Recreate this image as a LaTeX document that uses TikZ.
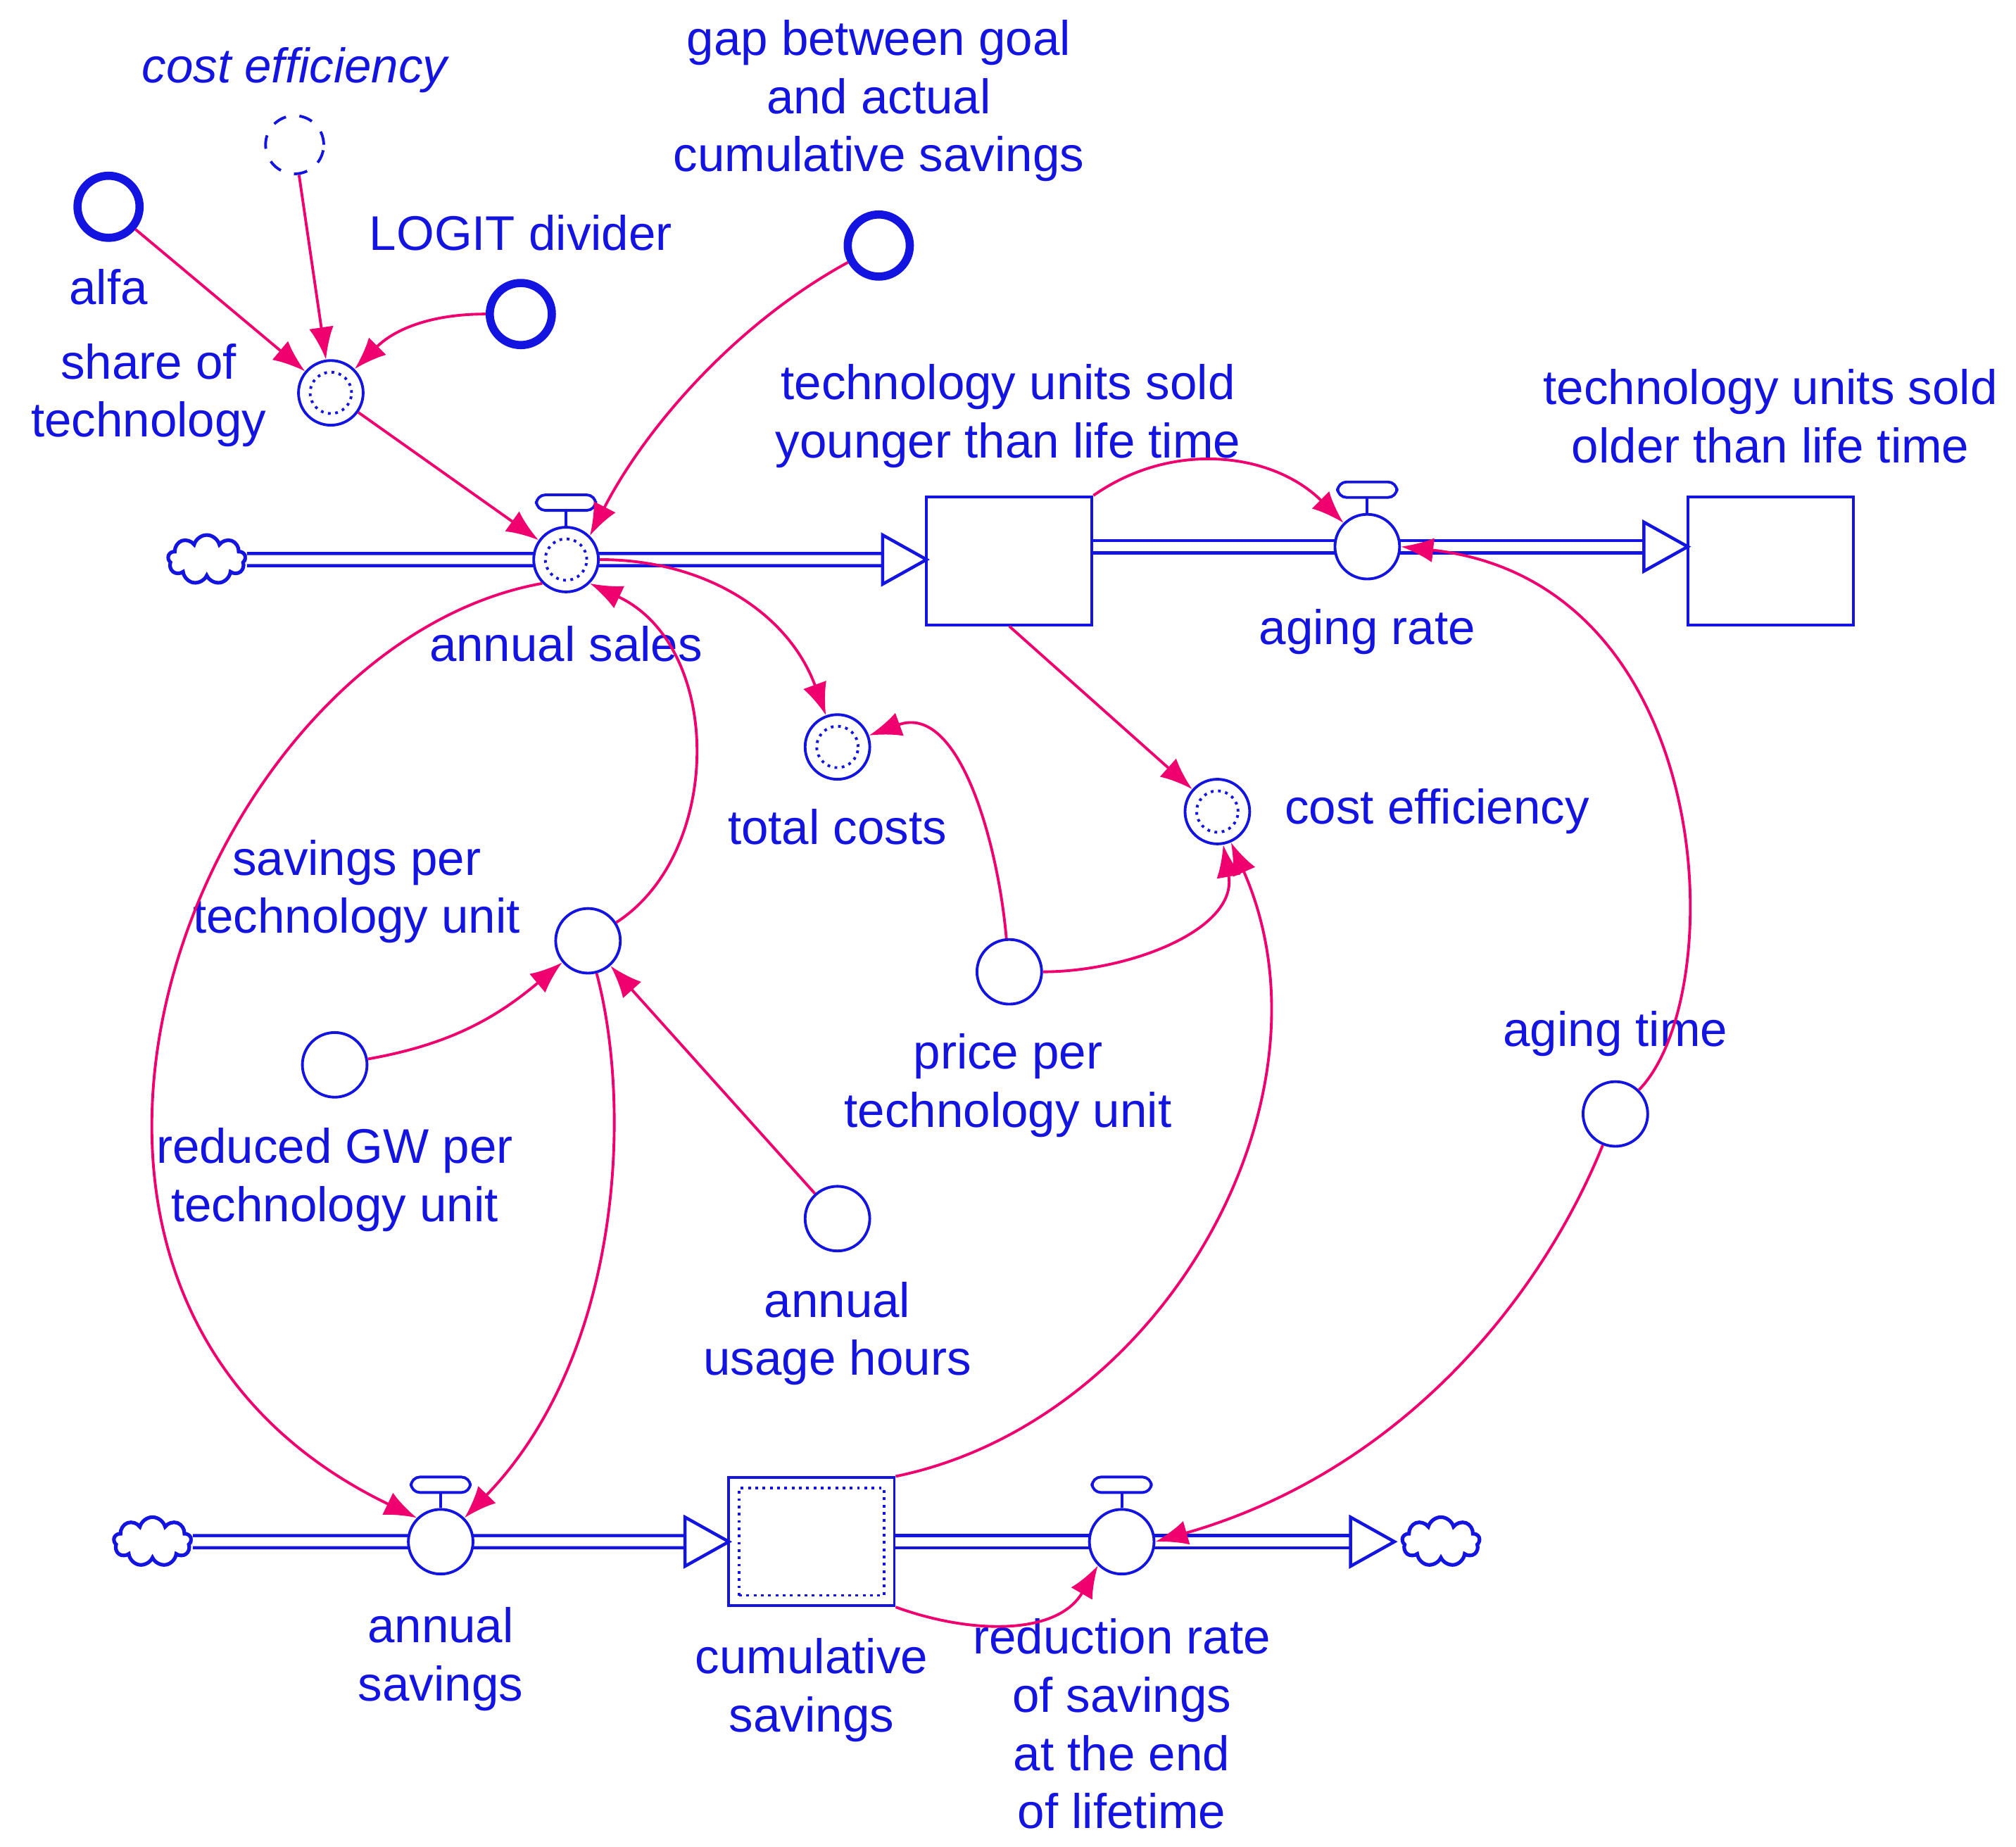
\documentclass[tikz,border=0pt]{standalone}
\usepackage{fontspec}
\setmainfont{Liberation Sans}
\usetikzlibrary{arrows.meta,shapes.symbols,calc}
\definecolor{vb}{RGB}{20,20,225}
\definecolor{lk}{RGB}{240,0,110}
\begin{document}
\begin{tikzpicture}[x=0.01cm,y=-0.01cm,
  every node/.style={font=\fontsize{10.7}{12.8}\selectfont,text=vb},
  lab/.style={align=center,inner sep=0pt},
  aux/.style={circle,draw=vb,line width=0.6pt,fill=white,minimum size=0.5cm,inner sep=0pt},
  cst/.style={circle,draw=vb,line width=1.8pt,fill=white,minimum size=0.48cm,inner sep=0pt},
  inner/.style={circle,draw=vb,densely dotted,line width=0.6pt,minimum size=0.32cm,inner sep=0pt},
  stock/.style={draw=vb,line width=0.6pt,fill=white,minimum width=1.28cm,minimum height=0.99cm,inner sep=0pt},
  cld/.style={cloud,cloud puffs=9,draw=vb,line width=0.8pt,fill=white,minimum width=0.6cm,minimum height=0.38cm,inner sep=0pt},
  pipe/.style={draw=vb,line width=0.7pt,double=white,double distance=0.07cm},
  tri/.style={draw=vb,line width=0.7pt,fill=white},
  vl/.style={draw=vb,line width=0.6pt,fill=white},
  lnk/.style={draw=lk,line width=0.6pt,-{Latex[length=0.25cm,width=0.19cm]}}]
\useasboundingbox (0,0) rectangle (1560,1429);
% pipes
\coordinate (p1) at (683,433); \coordinate (p2) at (1272,423); \coordinate (p3) at (530,1193); \coordinate (p4) at (1045,1193);
\node[cld] (c1) at (160,433) {};
\node[cld] (c2) at (118,1193) {};
\node[cld] (c3) at (1115,1193) {};
\node[stock] (yng) at (781,434) {};
\node[stock] (old) at (1370,434) {};
\node[stock] (cum) at (628,1193) {};
\node[draw=vb,densely dotted,line width=0.6pt,minimum width=1.12cm,minimum height=0.83cm] at (628,1193) {};
\draw[pipe] (c1.east) -- (p1);
\draw[tri] (683,414) -- (717,433) -- (683,452) -- cycle;
\draw[pipe] (yng.east|-p2) -- (p2);
\draw[tri] (1272,404) -- (1306,423) -- (1272,442) -- cycle;
\draw[pipe] (c2.east) -- (p3);
\draw[tri] (530,1174) -- (564,1193) -- (530,1212) -- cycle;
\draw[pipe] (cum.east) -- (p4);
\draw[tri] (1045,1174) -- (1079,1193) -- (1045,1212) -- cycle;
% valves
\foreach \n/\x/\y in {as/438/433, ar/1058/423, sv/341/1193, rr/868/1193}{
  \node[aux] (\n) at (\x,\y) {};
  \draw[vl] (\n.north) -- ++(0,-12);
  \draw[vl,rounded corners=2pt] ($(\n.north)+(-23,-12)$) rectangle ++(46,-12);
}
\node[inner] at (as) {};
% other nodes
\node[aux] (sh) at (256,304) {}; \node[inner] at (sh) {};
\node[cst] (alfa) at (84,160) {};
\node[aux,dashed,minimum size=0.45cm] (ce0) at (228,112) {};
\node[cst] (logit) at (403,243) {};
\node[cst] (gap) at (680,190) {};
\node[aux] (tc) at (648,578) {}; \node[inner] at (tc) {};
\node[aux] (ce) at (942,628) {}; \node[inner] at (ce) {};
\node[aux] (spu) at (455,728) {};
\node[aux] (gw) at (259,824) {};
\node[aux] (ppu) at (781,752) {};
\node[aux] (uh) at (648,943) {};
\node[aux] (at) at (1250,862) {};
% labels
\node[lab] (l1) at (780,322) {technology units sold\\younger than life time};
\node[lab] (l2) at (1370,322) {technology units sold\\older than life time};
\node[lab] (l3) at (1058,489) {aging rate};
\node[lab] (l4) at (438,498) {annual sales};
\node[lab] (l5) at (115,306) {share of\\technology};
\node[lab] (l6) at (84,222) {alfa};
\node[lab] (l7) at (228,54) {\itshape cost efficiency};
\node[lab] (l8) at (403,180) {LOGIT divider};
\node[lab] (l9) at (680,78) {gap between goal\\and actual\\cumulative savings};
\node[lab] (l10) at (648,640) {total costs};
\node[lab] (l11) at (1112,628) {cost efficiency};
\node[lab] (l12) at (276,690) {savings per\\technology unit};
\node[lab] (l13) at (259,913) {reduced GW per\\technology unit};
\node[lab] (l14) at (780,840) {price per\\technology unit};
\node[lab] (l15) at (648,1032) {annual\\usage hours};
\node[lab] (l16) at (1250,800) {aging time};
\node[lab] (l17) at (341,1284) {annual\\savings};
\node[lab] (l18) at (628,1308) {cumulative\\savings};
\node[lab] (l19) at (868,1334) {reduction rate\\of savings\\at the end\\of lifetime};
% links
\draw[lnk] (alfa) -- (sh);
\draw[lnk] (ce0) -- (sh);
\draw[lnk] (logit) to[out=180,in=45] (sh);
\draw[lnk] (gap) .. controls (570,250) and (500,330) .. (as.north east);
\draw[lnk] (sh) -- (as);
\draw[lnk] (yng.north east) to[out=35,in=135] (ar);
\draw[lnk] (as.east) to[out=0,in=110] (tc);
\draw[lnk] (yng.south) -- (ce);
\draw[lnk] (ppu) to[out=95,in=20] (tc);
\draw[lnk] (ppu) to[out=0,in=-80] (ce);
\draw[lnk] (spu) .. controls (560,660) and (560,500) .. (as.south east);
\draw[lnk] (gw) to[out=10,in=220] (spu);
\draw[lnk] (uh) -- (spu);
\draw[lnk] (spu) .. controls (490,860) and (480,1050) .. (sv.north east);
\draw[lnk] (as.south west) .. controls (150,500) and (-40,1000) .. (sv.north west);
\draw[lnk] (cum.north east) .. controls (900,1100) and (1040,850) .. (ce);
\draw[lnk] (cum.south east) to[out=-20,in=-120] (rr.south west);
\draw[lnk] (at) .. controls (1190,1010) and (1080,1140) .. (rr.east);
\draw[lnk] (at) .. controls (1340,770) and (1330,450) .. (ar.east);
\end{tikzpicture}
\end{document}
